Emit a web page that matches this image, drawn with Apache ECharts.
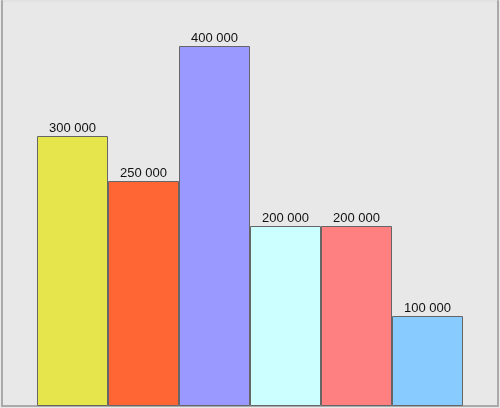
<!DOCTYPE html>
<html><head><meta charset="utf-8">
<script src="https://cdn.jsdelivr.net/npm/echarts@6/dist/echarts.min.js"></script>
<style>html,body{margin:0;padding:0;background:#e8e8e8}#c{width:500px;height:408px}</style>
</head><body><div id="c"></div>
<script>
const categories = ['A', 'B', 'C', 'D', 'E', 'F'];
const values = [300000, 250000, 400000, 200000, 200000, 100000];
const colors = ['#e6e64c', '#ff6633', '#9999ff', '#ccffff', '#ff8080', '#88ccff'];

const fmt = v => String(v).replace(/\B(?=(\d{3})+(?!\d))/g, ' ');
const chart = echarts.init(document.getElementById('c'), null, {renderer: 'canvas'});
const yBase = {type: 'value', min: 0, max: 450000, splitLine: {show: false}, axisLine: {show: true, lineStyle: {color: '#aaaaaa', width: 2}}, axisTick: {show: false}, axisLabel: {show: false}};
chart.setOption({
  backgroundColor: '#e8e8e8',
  animation: false,
  grid: {left: 2, right: 2, top: 1, bottom: 2, show: true, borderColor: '#dcdcdc', borderWidth: 1, backgroundColor: '#e8e8e8'},
  xAxis: {type: 'category', data: [''], axisLine: {lineStyle: {color: '#aaaaaa', width: 2}}, axisTick: {show: false}, axisLabel: {show: false}},
  yAxis: [Object.assign({position: 'left'}, yBase), Object.assign({position: 'right'}, yBase)],
  series: categories.map((c, i) => ({
    name: c, type: 'bar', barGap: 0, barWidth: 71,
    data: [values[i]],
    itemStyle: {color: colors[i], borderColor: '#666666', borderWidth: 1},
    label: {show: true, position: 'top', distance: 1, color: '#111', fontFamily: 'Liberation Sans, Arial, sans-serif', fontSize: 13, formatter: p => fmt(p.value)}
  }))
});
</script></body></html>
